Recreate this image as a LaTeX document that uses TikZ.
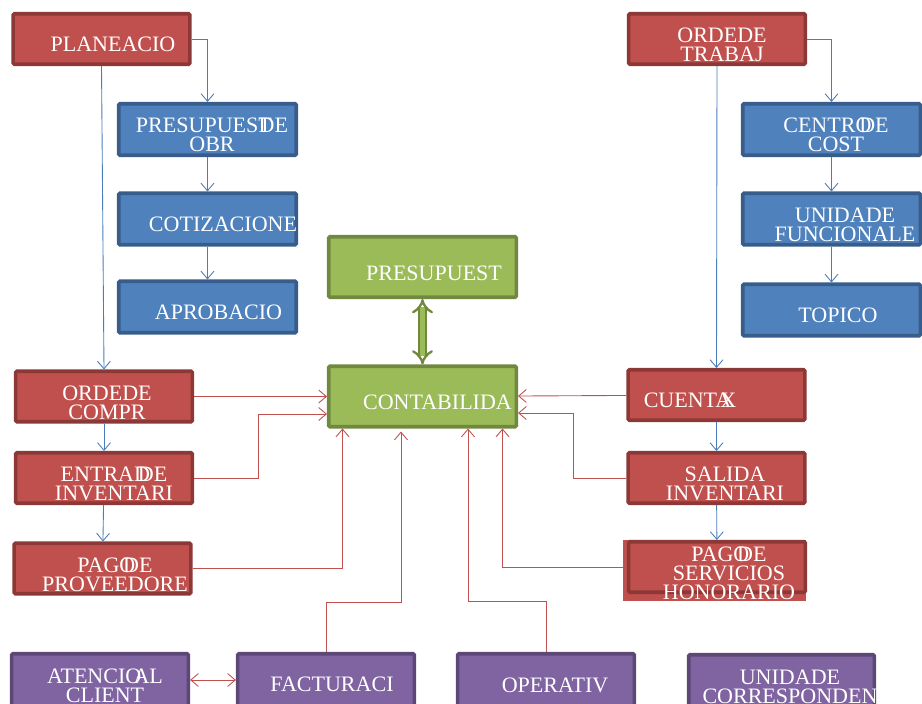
\documentclass[tikz,border=0pt]{standalone}
\usepackage{fontspec}
\setmainfont{Liberation Serif}
\usetikzlibrary{arrows.meta,calc}
\definecolor{rojo}{HTML}{C0504D}
\definecolor{rojoborde}{HTML}{8C3836}
\definecolor{azul}{HTML}{4F81BD}
\definecolor{azulborde}{HTML}{385D8A}
\definecolor{verde}{HTML}{9BBB59}
\definecolor{verdeborde}{HTML}{71893F}
\definecolor{morado}{HTML}{8064A2}
\definecolor{moradoborde}{HTML}{5C4776}
\definecolor{lineaazul}{HTML}{4A7EBB}
\definecolor{linearoja}{HTML}{C0504D}
\begin{document}
\begin{tikzpicture}[x=0.03cm, y=-0.03cm,
  caja/.style={draw, line width=3pt, rounded corners=1pt, minimum width=5.3cm, minimum height=1.515cm, inner sep=0pt},
  roja/.style={caja, fill=rojo, draw=rojoborde},
  azulc/.style={caja, fill=azul, draw=azulborde, minimum width=5.325cm, minimum height=1.545cm},
  verdec/.style={caja, fill=verde, draw=verdeborde, minimum width=5.625cm, minimum height=1.815cm},
  moradac/.style={caja, fill=morado, draw=moradoborde, minimum height=1.575cm},
  texto/.style={text=white, align=center, inner sep=0pt, font=\fontsize{18.8}{16.3}\selectfont},
  flechaazul/.style={draw=lineaazul, line width=0.75pt, -{Straight Barb[length=6.5pt,width=11pt]}},
  flecharoja/.style={draw=linearoja, line width=0.75pt, -{Straight Barb[length=6.5pt,width=11pt]}},
  flechaverde/.style={draw=verdeborde, line width=2pt, double=verde, double distance=4pt, {Implies}-{Implies}}]
  \useasboundingbox (0,0) rectangle (922,704);
  \clip (0,0) rectangle (922,704);

  % columna izquierda
  \node[roja] (plan) at (101.5,39) {};
  \node[texto] (plan-t) at (113,44) {PLANEACIO};
  \node[azulc] (pres) at (207.5,129.5) {};
  \node[texto] (pres-t) at (212,135) {PRESUPUEST\kern-0.6em DE\\OBR};
  \node[azulc] (coti) at (207.5,219) {};
  \node[texto] (coti-t) at (223,224.5) {COTIZACIONE};
  \node[azulc] (apro) at (207.5,307) {};
  \node[texto] (apro-t) at (218.5,312) {APROBACIO};
  \node[roja] (ocomp) at (104,396.5) {};
  \node[texto] (ocomp-t) at (107,403) {ORDEDE\\COMPR};
  \node[roja] (entr) at (104,478) {};
  \node[texto] (entr-t) at (114,484) {ENTRAD\kern-0.55em DE\\INVENTARI};
  \node[roja] (pprov) at (102.5,568.5) {};
  \node[texto] (pprov-t) at (115,575) {PAGO\kern-0.55em DE\\PROVEEDORE};

  % columna derecha
  \node[roja] (otrab) at (717,39) {};
  \node[texto] (otrab-t) at (722,44.5) {ORDEDE\\TRABAJ};
  \node[azulc] (centro) at (831.5,129.5) {};
  \node[texto] (centro-t) at (836,135) {CENTRO\kern-0.55em DE\\COST};
  \node[azulc] (unid) at (831.5,219) {};
  \node[texto] (unid-t) at (845,225) {UNIDADE\\FUNCIONALE};
  \node[azulc] (topico) at (831.5,310) {};
  \node[texto] (topico-t) at (838,315) {TOPICO};
  \node[roja] (cuenta) at (716.5,395) {};
  \node[texto] (cuenta-t) at (690,400.5) {CUENTA\kern-0.5em X};
  \node[roja] (salida) at (716.5,478) {};
  \node[texto] (salida-t) at (725,483.5) {SALIDA\\INVENTARI};
  \fill[rojo] (623,540) rectangle (806,601);
  \node[roja] (pserv) at (717,567) {};
  \node[texto] (pserv-t) at (729,573.5) {PAGO\kern-0.55em DE\\SERVICIOS\\HONORARIO};

  % centro
  \node[verdec] (presu) at (422.5,267) {};
  \node[texto] (presu-t) at (434,273) {PRESUPUEST};
  \node[verdec] (conta) at (422.5,396.5) {};
  \node[texto] (conta-t) at (437.5,402.5) {CONTABILIDA};

  % fila de abajo
  \node[moradac] (atenc) at (100,680) {};
  \node[texto] (atenc-t) at (105,686) {ATENCIO\kern-0.35em AL\\CLIENT};
  \node[moradac] (fact) at (326,680) {};
  \node[texto] (fact-t) at (332,684.5) {FACTURACI};
  \node[moradac] (oper) at (546,680) {};
  \node[texto] (oper-t) at (555,685) {OPERATIV};
  \node[moradac, minimum width=5.565cm] (ucorr) at (781.5,681) {};
  \node[texto] (ucorr-t) at (790,687) {UNIDADE\\CORRESPONDEN};

  % conectores azules
  \draw[flechaazul] (plan.east) -| (pres.north);
  \draw[flechaazul] (plan.south) -- (ocomp.north);
  \draw[flechaazul] (pres) -- (coti);
  \draw[flechaazul] (coti) -- (apro);
  \draw[flechaazul] (ocomp) -- (entr);
  \draw[flechaazul] (entr) -- (pprov);
  \draw[flechaazul] (otrab.east) -| (centro.north);
  \draw[flechaazul] (otrab.south) -- (cuenta.north);
  \draw[flechaazul] (centro) -- (unid);
  \draw[flechaazul] (unid) -- (topico);
  \draw[flechaazul] (cuenta) -- (salida);
  \draw[flechaazul] (salida) -- (pserv);

  % conectores rojos hacia contabilidad
  \draw[flecharoja] (ocomp) -- (conta);
  \draw[flecharoja] (entr.east) -- ++(64,0) |- ($(conta.west)+(0,17.5)$);
  \draw[flecharoja] (pprov.east) -| ($(conta.south west)+(15.5,0)$);
  \draw[flecharoja] (cuenta) -- (conta);
  \draw[flecharoja] (salida.west) -- ++(-53,0) |- ($(conta.east)+(0,16.5)$);
  \draw[flecharoja] (pserv.west) -| ($(conta.south east)+(-15.5,0)$);
  \draw[flecharoja] (fact.north) -- ++(0,-50) -| ($(conta.south)+(-21.5,3)$);
  \draw[flecharoja] (oper.north) -- ++(0,-51) -| ($(conta.south)+(45.5,0)$);
  \draw[flecharoja, {Straight Barb[length=6.5pt,width=11pt]}-{Straight Barb[length=6.5pt,width=11pt]}] (atenc) -- (fact);

  \draw[flechaverde] (presu) -- (conta);
\end{tikzpicture}
\end{document}
